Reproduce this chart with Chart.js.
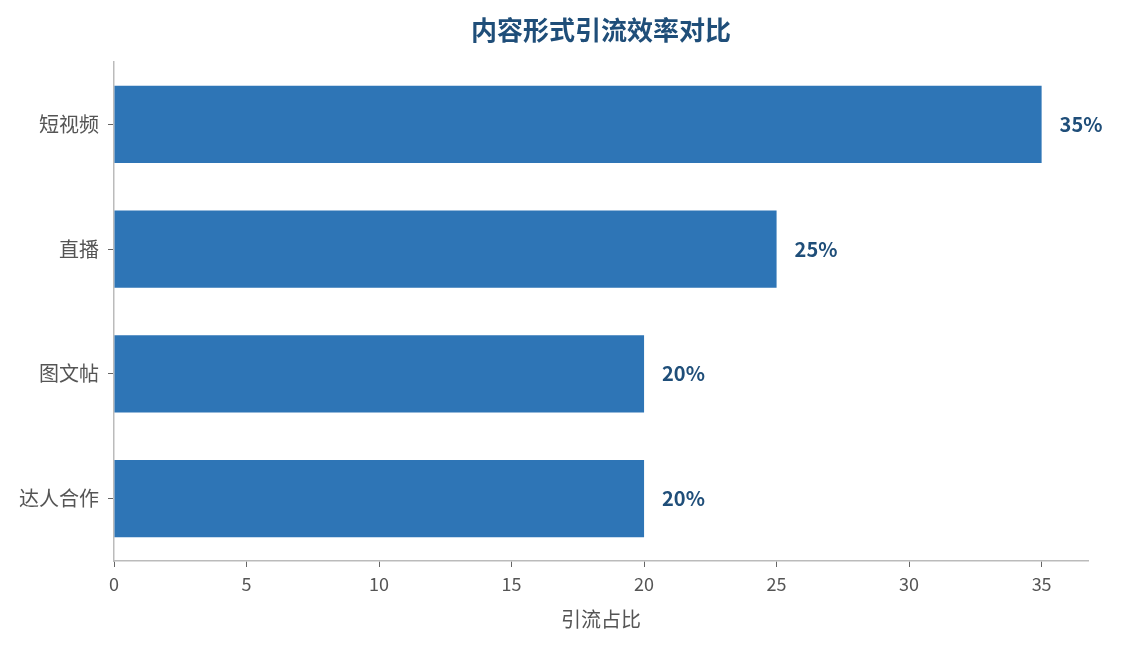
<!DOCTYPE html>
<html>
<head>
<meta charset="utf-8">
<script src="https://cdn.jsdelivr.net/npm/chart.js@4"></script>
<style>
  body { margin: 0; background: #fff; }
  #wrap { width: 1122px; height: 645px; }
</style>
</head>
<body>
<div id="wrap"><canvas id="chart"></canvas></div>
<script>
const categories = ['短视频', '直播', '图文帖', '达人合作'];
const shares = [35, 25, 20, 20];
const xTicks = [0, 5, 10, 15, 20, 25, 30, 35];

const FONT = '"Noto Sans CJK SC", "Noto Sans", sans-serif';

// title centred over the plot area, value labels at bar ends
const extras = {
    id: 'extras',
    afterDraw(chart) {
        const ctx = chart.ctx;
        const area = chart.chartArea;
        ctx.save();
        ctx.fillStyle = '#1f4e79';
        ctx.font = 'bold 26px ' + FONT;
        ctx.textAlign = 'center';
        ctx.textBaseline = 'middle';
        ctx.fillText('内容形式引流效率对比', (area.left + area.right) / 2, 30);

        ctx.font = 'bold 20px ' + FONT;
        ctx.textAlign = 'left';
        chart.getDatasetMeta(0).data.forEach((bar, i) => {
            ctx.fillText(shares[i] + '%', bar.x + 18, bar.y);
        });
        ctx.restore();
    }
};

new Chart(document.getElementById('chart'), {
    type: 'bar',
    data: {
        labels: categories,
        datasets: [{
            data: shares,
            backgroundColor: '#2e75b6',
            categoryPercentage: 1,
            barPercentage: 0.62
        }]
    },
    options: {
        indexAxis: 'y',
        responsive: true,
        maintainAspectRatio: false,
        animation: false,
        layout: { padding: { top: 62, right: 34, left: 0, bottom: 0 } },
        plugins: {
            legend: { display: false },
            tooltip: { enabled: false }
        },
        scales: {
            x: {
                min: 0,
                max: 36.75,
                afterBuildTicks: scale => { scale.ticks = xTicks.map(v => ({ value: v })); },
                afterFit: scale => { scale.height = 84; },
                border: { color: '#bbbbbb', width: 1.5 },
                grid: { drawOnChartArea: false, tickLength: 6, color: '#666666' },
                ticks: { color: '#555555', font: { size: 18, family: FONT }, padding: 6 },
                title: {
                    display: true,
                    text: '引流占比',
                    color: '#555555',
                    font: { size: 20, family: FONT },
                    padding: { top: 4, bottom: 14 }
                }
            },
            y: {
                afterFit: scale => { scale.width = 114; },
                border: { color: '#bbbbbb', width: 1.5 },
                grid: { drawOnChartArea: false, offset: false, tickLength: 6, color: '#666666' },
                ticks: { color: '#555555', font: { size: 20, family: FONT }, padding: 9 }
            }
        }
    },
    plugins: [extras]
});
</script>
</body>
</html>
